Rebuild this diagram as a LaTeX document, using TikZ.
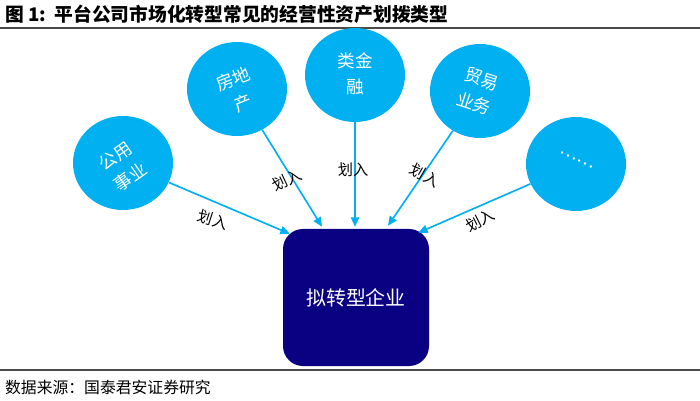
\documentclass[tikz,border=0pt]{standalone}
\usepackage{fontspec}
\usepackage{xcolor}
\usepackage{tikz}
\usetikzlibrary{arrows.meta,calc,shapes.geometric}
\newfontfamily\cjk{Noto Sans CJK SC}
\definecolor{sky}{HTML}{00B0F0}
\definecolor{navy}{HTML}{0A0082}
\definecolor{rule}{HTML}{4A4A4A}

\begin{document}
\begin{tikzpicture}[x=0.03cm,y=-0.03cm,font=\cjk,
  asset/.style={ellipse,fill=sky,minimum width=3cm,minimum height=2.82cm,inner sep=0pt},
  assettext/.style={text=white,align=center,font=\cjk\fontsize{15}{22}\selectfont},
  feed/.style={sky,line width=1.4pt,-{Triangle[length=8pt,width=7pt]}},
  feedlabel/.style={text=black,font=\cjk\fontsize{13}{15}\selectfont}]
\useasboundingbox (0,0) rectangle (700,401);
% title and rules
\node[anchor=west,font=\cjk\bfseries\fontsize{16}{18}\selectfont] (title) at (1,14) {图 1:\ \ 平台公司市场化转型常见的经营性资产划拨类型};
\draw[rule,line width=1.2pt] (0,28) -- (700,28);
\draw[rule,line width=1.2pt] (0,370) -- (700,370);
\node[anchor=west,font=\cjk\fontsize{13.5}{15}\selectfont] (src) at (1,387) {数据来源：国泰君安证券研究};
% the firm
\node[fill=navy,rounded corners=0.6cm,minimum width=4.38cm,minimum height=4.11cm,
  text=white,font=\cjk\fontsize{17}{20}\selectfont] (qy) at (356,297.5) {拟转型企业};
% the assets
\node[asset] (util) at (123,163) {};
\node[asset] (estate) at (237,89) {};
\node[asset] (fin) at (355,75) {};
\node[asset] (trade) at (480,91) {};
\node[asset] (more) at (576,164) {};
\node[assettext,rotate=35] (utilt) at (123,167) {公用\\事业};
\node[assettext,rotate=22] (estatet) at (238,91) {房地\\产};
\node[assettext] (fint) at (355,74) {类金\\融};
\node[assettext,rotate=-18] (tradet) at (478,91) {贸易\\业务};
\node[assettext,rotate=-27] (moret) at (577,160) {……};
% transfers
\draw[feed] (util) -- ($(qy.north west)+(7,5)$);
\draw[feed] (estate) -- ($(qy.north)+(-34,-2)$);
\draw[feed] (fin) -- ($(qy.north)+(-1,-2)$);
\draw[feed] (trade) -- ($(qy.north)+(32,-3)$);
\draw[feed] (more) -- ($(qy.north east)+(-11,4)$);
\node[feedlabel,rotate=-18] (l1) at (213,220) {划入};
\node[feedlabel,rotate=25] (l2) at (287,180) {划入};
\node[feedlabel] (l3) at (353,170) {划入};
\node[feedlabel,rotate=-30] (l4) at (425,175) {划入};
\node[feedlabel,rotate=27] (l5) at (480,220) {划入};
\end{tikzpicture}
\end{document}
